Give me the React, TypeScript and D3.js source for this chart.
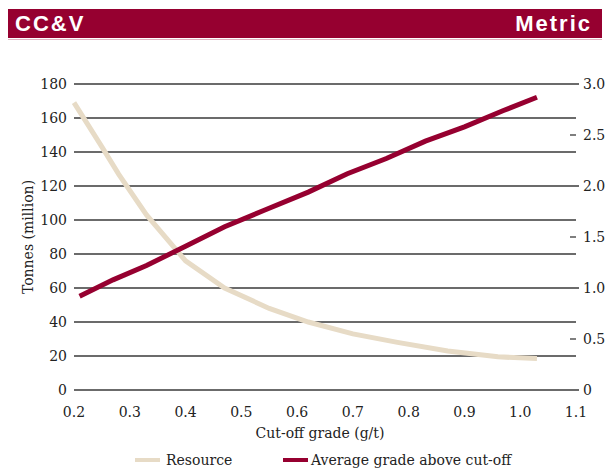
import React from "react";
import * as d3 from "d3";

const resGrade = [0.2, 0.25, 0.28, 0.33, 0.4, 0.47, 0.55, 0.62, 0.7, 0.78, 0.87, 0.96, 1.03];
const resTonnes = [169, 143, 127, 103, 76, 60, 48, 40, 33, 28, 23, 19.5, 18.5];
const avgGrade = [0.21, 0.27, 0.33, 0.4, 0.47, 0.54, 0.62, 0.69, 0.76, 0.83, 0.9, 0.97, 1.03];
const avgValue = [0.92, 1.08, 1.22, 1.41, 1.6, 1.76, 1.94, 2.12, 2.27, 2.44, 2.58, 2.74, 2.87];
const xTicks = [0.2, 0.3, 0.4, 0.5, 0.6, 0.7, 0.8, 0.9, 1.0, 1.1];
const yTicks = [0, 20, 40, 60, 80, 100, 120, 140, 160, 180];
const y2Ticks = [0, 0.5, 1.0, 1.5, 2.0, 2.5, 3.0];

const RED = "#960030";
const BEIGE = "#E7DBC6";
const SERIF = "'DejaVu Serif', serif";
const FS = 14;

export default function App() {
  const W = 610, H = 468;
  const x = d3.scaleLinear().domain([0.2, 1.1]).range([74, 576]);
  const y = d3.scaleLinear().domain([0, 180]).range([390, 84]);
  const y2 = d3.scaleLinear().domain([0, 3]).range([390, 84]);
  const lineRes = d3.line<number>().x((d, i) => x(resGrade[i])).y((d) => y(d));
  const lineAvg = d3.line<number>().x((d, i) => x(avgGrade[i])).y((d) => y2(d));
  const fmt = (v: number) => (v === 0 ? "0" : v.toFixed(1));
  return (
    <svg width={W} height={H} style={{ position: "absolute", left: 0, top: 0 }}>
      <rect x={8} y={9} width={594} height={29} fill={RED} />
      <line x1={8} x2={602} y1={39.5} y2={39.5} stroke="#e0b3c0" strokeWidth={1} />
      <text x={15} y={31} fill="#fff" fontFamily="'Liberation Sans', Arial, sans-serif" fontWeight="bold" fontSize={22} letterSpacing={2}>CC&amp;V</text>
      <text x={592} y={31} textAnchor="end" fill="#fff" fontFamily="'Liberation Sans', Arial, sans-serif" fontWeight="bold" fontSize={22} letterSpacing={2}>Metric</text>

      {yTicks.map((t) => (
        <g key={"g" + t}>
          <line x1={74} x2={t % 60 === 0 ? 579 : 576} y1={y(t)} y2={y(t)} stroke="#3a3a3a" strokeWidth={1.3} />
          <text x={67} y={y(t)} dy="0.35em" textAnchor="end" fontFamily={SERIF} fontSize={FS} fill="#222">{t}</text>
        </g>
      ))}
      {y2Ticks.map((t) => (
        <g key={"r" + t}>
          {t % 1 !== 0 && <line x1={570} x2={576} y1={y2(t)} y2={y2(t)} stroke="#3a3a3a" strokeWidth={1.3} />}
          <text x={583} y={y2(t)} dy="0.35em" fontFamily={SERIF} fontSize={FS} fill="#222">{fmt(t)}</text>
        </g>
      ))}
      {xTicks.map((t) => (
        <text key={"x" + t} x={x(t)} y={417} textAnchor="middle" fontFamily={SERIF} fontSize={FS} fill="#222">{t.toFixed(1)}</text>
      ))}
      <text x={320} y={438} textAnchor="middle" fontFamily={SERIF} fontSize={FS} fill="#222">Cut-off grade (g/t)</text>
      <text transform="translate(33,237) rotate(-90)" textAnchor="middle" fontFamily={SERIF} fontSize={FS} fill="#222">Tonnes (million)</text>

      <path d={lineRes(resTonnes) || ""} fill="none" stroke={BEIGE} strokeWidth={5} />
      <path d={lineAvg(avgValue) || ""} fill="none" stroke={RED} strokeWidth={5} />

      <line x1={135} x2={160} y1={460} y2={460} stroke={BEIGE} strokeWidth={4} />
      <text x={166} y={465} fontFamily={SERIF} fontSize={FS} fill="#222">Resource</text>
      <line x1={283} x2={308} y1={460} y2={460} stroke={RED} strokeWidth={4} />
      <text x={311} y={465} fontFamily={SERIF} fontSize={FS} fill="#222">Average grade above cut-off</text>
    </svg>
  );
}
